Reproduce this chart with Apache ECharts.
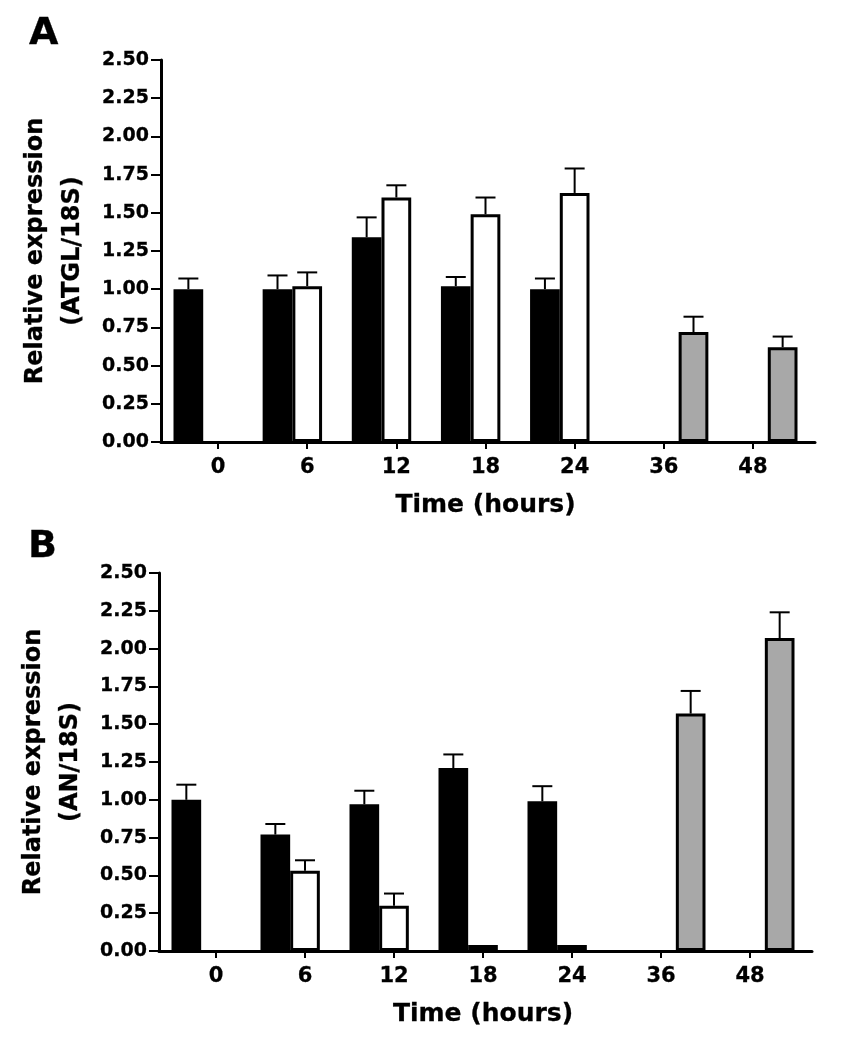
<!DOCTYPE html>
<html>
<head>
<meta charset="utf-8">
<script src="https://cdn.jsdelivr.net/npm/echarts@6/dist/echarts.min.js"></script>
<style>
html,body{margin:0;padding:0;background:#fff;}
#chart{width:847px;height:1050px;}
</style>
</head>
<body>
<div id="chart"></div>
<script>
// ---- data ----
const categories = ['0', '6', '12', '18', '24', '36', '48'];
const yTicks = [0, 0.25, 0.5, 0.75, 1.0, 1.25, 1.5, 1.75, 2.0, 2.25, 2.5];

// Panel A: ATGL/18S
const aBlack    = [1.00, 1.00, 1.34, 1.02, 1.00, null, null];
const aBlackErr = [0.07, 0.09, 0.13, 0.06, 0.07, null, null];
const aWhite    = [null, 1.02, 1.60, 1.49, 1.63, null, null];
const aWhiteErr = [null, 0.09, 0.08, 0.11, 0.16, null, null];
const aGray     = [null, null, null, null, null, 0.72, 0.62];
const aGrayErr  = [null, null, null, null, null, 0.10, 0.07];

// Panel B: AN/18S
const bBlack    = [1.00, 0.77, 0.97, 1.21, 0.99, null, null];
const bBlackErr = [0.10, 0.07, 0.09, 0.09, 0.10, null, null];
const bWhite    = [null, 0.53, 0.30, 0.04, 0.04, null, null];
const bWhiteErr = [null, 0.07, 0.08, null, null, null, null];
const bGray     = [null, null, null, null, null, 1.57, 2.07];
const bGrayErr  = [null, null, null, null, null, 0.15, 0.17];

const FONT = 'DejaVu Sans';
const GRAY = '#a8a8a8';
const TXT = { color: '#000', fontFamily: FONT, fontWeight: 'bold', textBorderColor: '#000', textBorderWidth: 0.3 };

function errData(vals, errs, slot) {
  const out = [];
  vals.forEach((v, i) => {
    if (v != null && errs[i] != null) out.push([i, v, errs[i], slot]);
  });
  return out;
}

function renderErr(params, api) {
  const ci = api.value(0);
  const v = api.value(1);
  const e = api.value(2);
  const slot = api.value(3);
  const base = api.coord([ci, v]);
  const top = api.coord([ci, v + e]);
  const band = api.size([1, 0])[0];
  const x = base[0] + (slot - 1) * band / 3;
  const st = { stroke: '#000', lineWidth: 2 };
  return {
    type: 'group',
    children: [
      { type: 'line', shape: { x1: x, y1: base[1], x2: x, y2: top[1] }, style: st },
      { type: 'line', shape: { x1: x - 10, y1: top[1], x2: x + 10, y2: top[1] }, style: st }
    ]
  };
}

const chart = echarts.init(document.getElementById('chart'), null, { renderer: 'canvas' });

function outerX(gi) {
  return {
    gridIndex: gi, type: 'value', min: 0, max: 1,
    axisLine: { show: true, onZero: false, lineStyle: { color: '#000', width: 3 } },
    axisTick: { show: false }, axisLabel: { show: false }, splitLine: { show: false }
  };
}
function innerX(gi) {
  return {
    gridIndex: gi, type: 'category', data: categories,
    axisLine: { show: false },
    axisTick: { show: true, alignWithLabel: true, length: 7, lineStyle: { color: '#000', width: 2 } },
    axisLabel: Object.assign({ show: true, fontSize: 21, margin: 15 }, TXT),
    splitLine: { show: false },
    name: 'Time (hours)', nameLocation: 'middle', nameGap: 51, nameMoveOverlap: false,
    nameTextStyle: Object.assign({ fontSize: 25 }, TXT)
  };
}
function outerY(gi, name) {
  return {
    gridIndex: gi, type: 'value', min: 0, max: 2.5, interval: 0.25,
    axisLine: { show: true, onZero: false, lineStyle: { color: '#000', width: 3 } },
    axisTick: { show: true, length: 10, lineStyle: { color: '#000', width: 2 } },
    axisLabel: Object.assign({ show: true, fontSize: 19, margin: 12, formatter: v => v.toFixed(2) }, TXT),
    splitLine: { show: false },
    name: name, nameLocation: 'middle', nameRotate: 90, nameGap: 70, nameMoveOverlap: false,
    nameTextStyle: Object.assign({ fontSize: 24, lineHeight: 37, align: 'center' }, TXT)
  };
}
function innerY(gi) {
  return { gridIndex: gi, type: 'value', min: 0, max: 2.5, interval: 0.25, show: false };
}
function bar(xi, yi, data, color) {
  return {
    type: 'bar', xAxisIndex: xi, yAxisIndex: yi, data: data,
    barGap: '0%', barCategoryGap: '0%',
    itemStyle: { color: color, borderColor: '#000', borderWidth: 3 },
    emphasis: { disabled: true }, z: 3
  };
}
function errSeries(xi, yi, data) {
  return {
    type: 'custom', xAxisIndex: xi, yAxisIndex: yi, data: data,
    renderItem: renderErr, z: 2, silent: true
  };
}

chart.setOption({
  animation: false,
  backgroundColor: '#fff',
  title: [
    { text: 'A', left: 24, top: 10, textStyle: Object.assign({ fontSize: 38 }, TXT) },
    { text: 'B', left: 23, top: 523, textStyle: Object.assign({ fontSize: 38 }, TXT) }
  ],
  grid: [
    { left: 161, right: 32, top: 60, height: 382, outerBoundsMode: 'none' },
    { left: 173.5, right: 49.5, top: 60, height: 382, outerBoundsMode: 'none' },
    { left: 159, right: 35, top: 573, height: 378, outerBoundsMode: 'none' },
    { left: 171.5, right: 52.5, top: 573, height: 378, outerBoundsMode: 'none' }
  ],
  xAxis: [outerX(0), innerX(1), outerX(2), innerX(3)],
  yAxis: [
    outerY(0, 'Relative expression\n(ATGL/18S)'), innerY(1),
    outerY(2, 'Relative expression\n(AN/18S)'), innerY(3)
  ],
  series: [
    bar(1, 1, aBlack, '#000'),
    bar(1, 1, aWhite, '#fff'),
    bar(1, 1, aGray, GRAY),
    errSeries(1, 1, errData(aBlack, aBlackErr, 0).concat(errData(aWhite, aWhiteErr, 1), errData(aGray, aGrayErr, 2))),
    bar(3, 3, bBlack, '#000'),
    bar(3, 3, bWhite, '#fff'),
    bar(3, 3, bGray, GRAY),
    errSeries(3, 3, errData(bBlack, bBlackErr, 0).concat(errData(bWhite, bWhiteErr, 1), errData(bGray, bGrayErr, 2)))
  ]
});
</script>
</body>
</html>
